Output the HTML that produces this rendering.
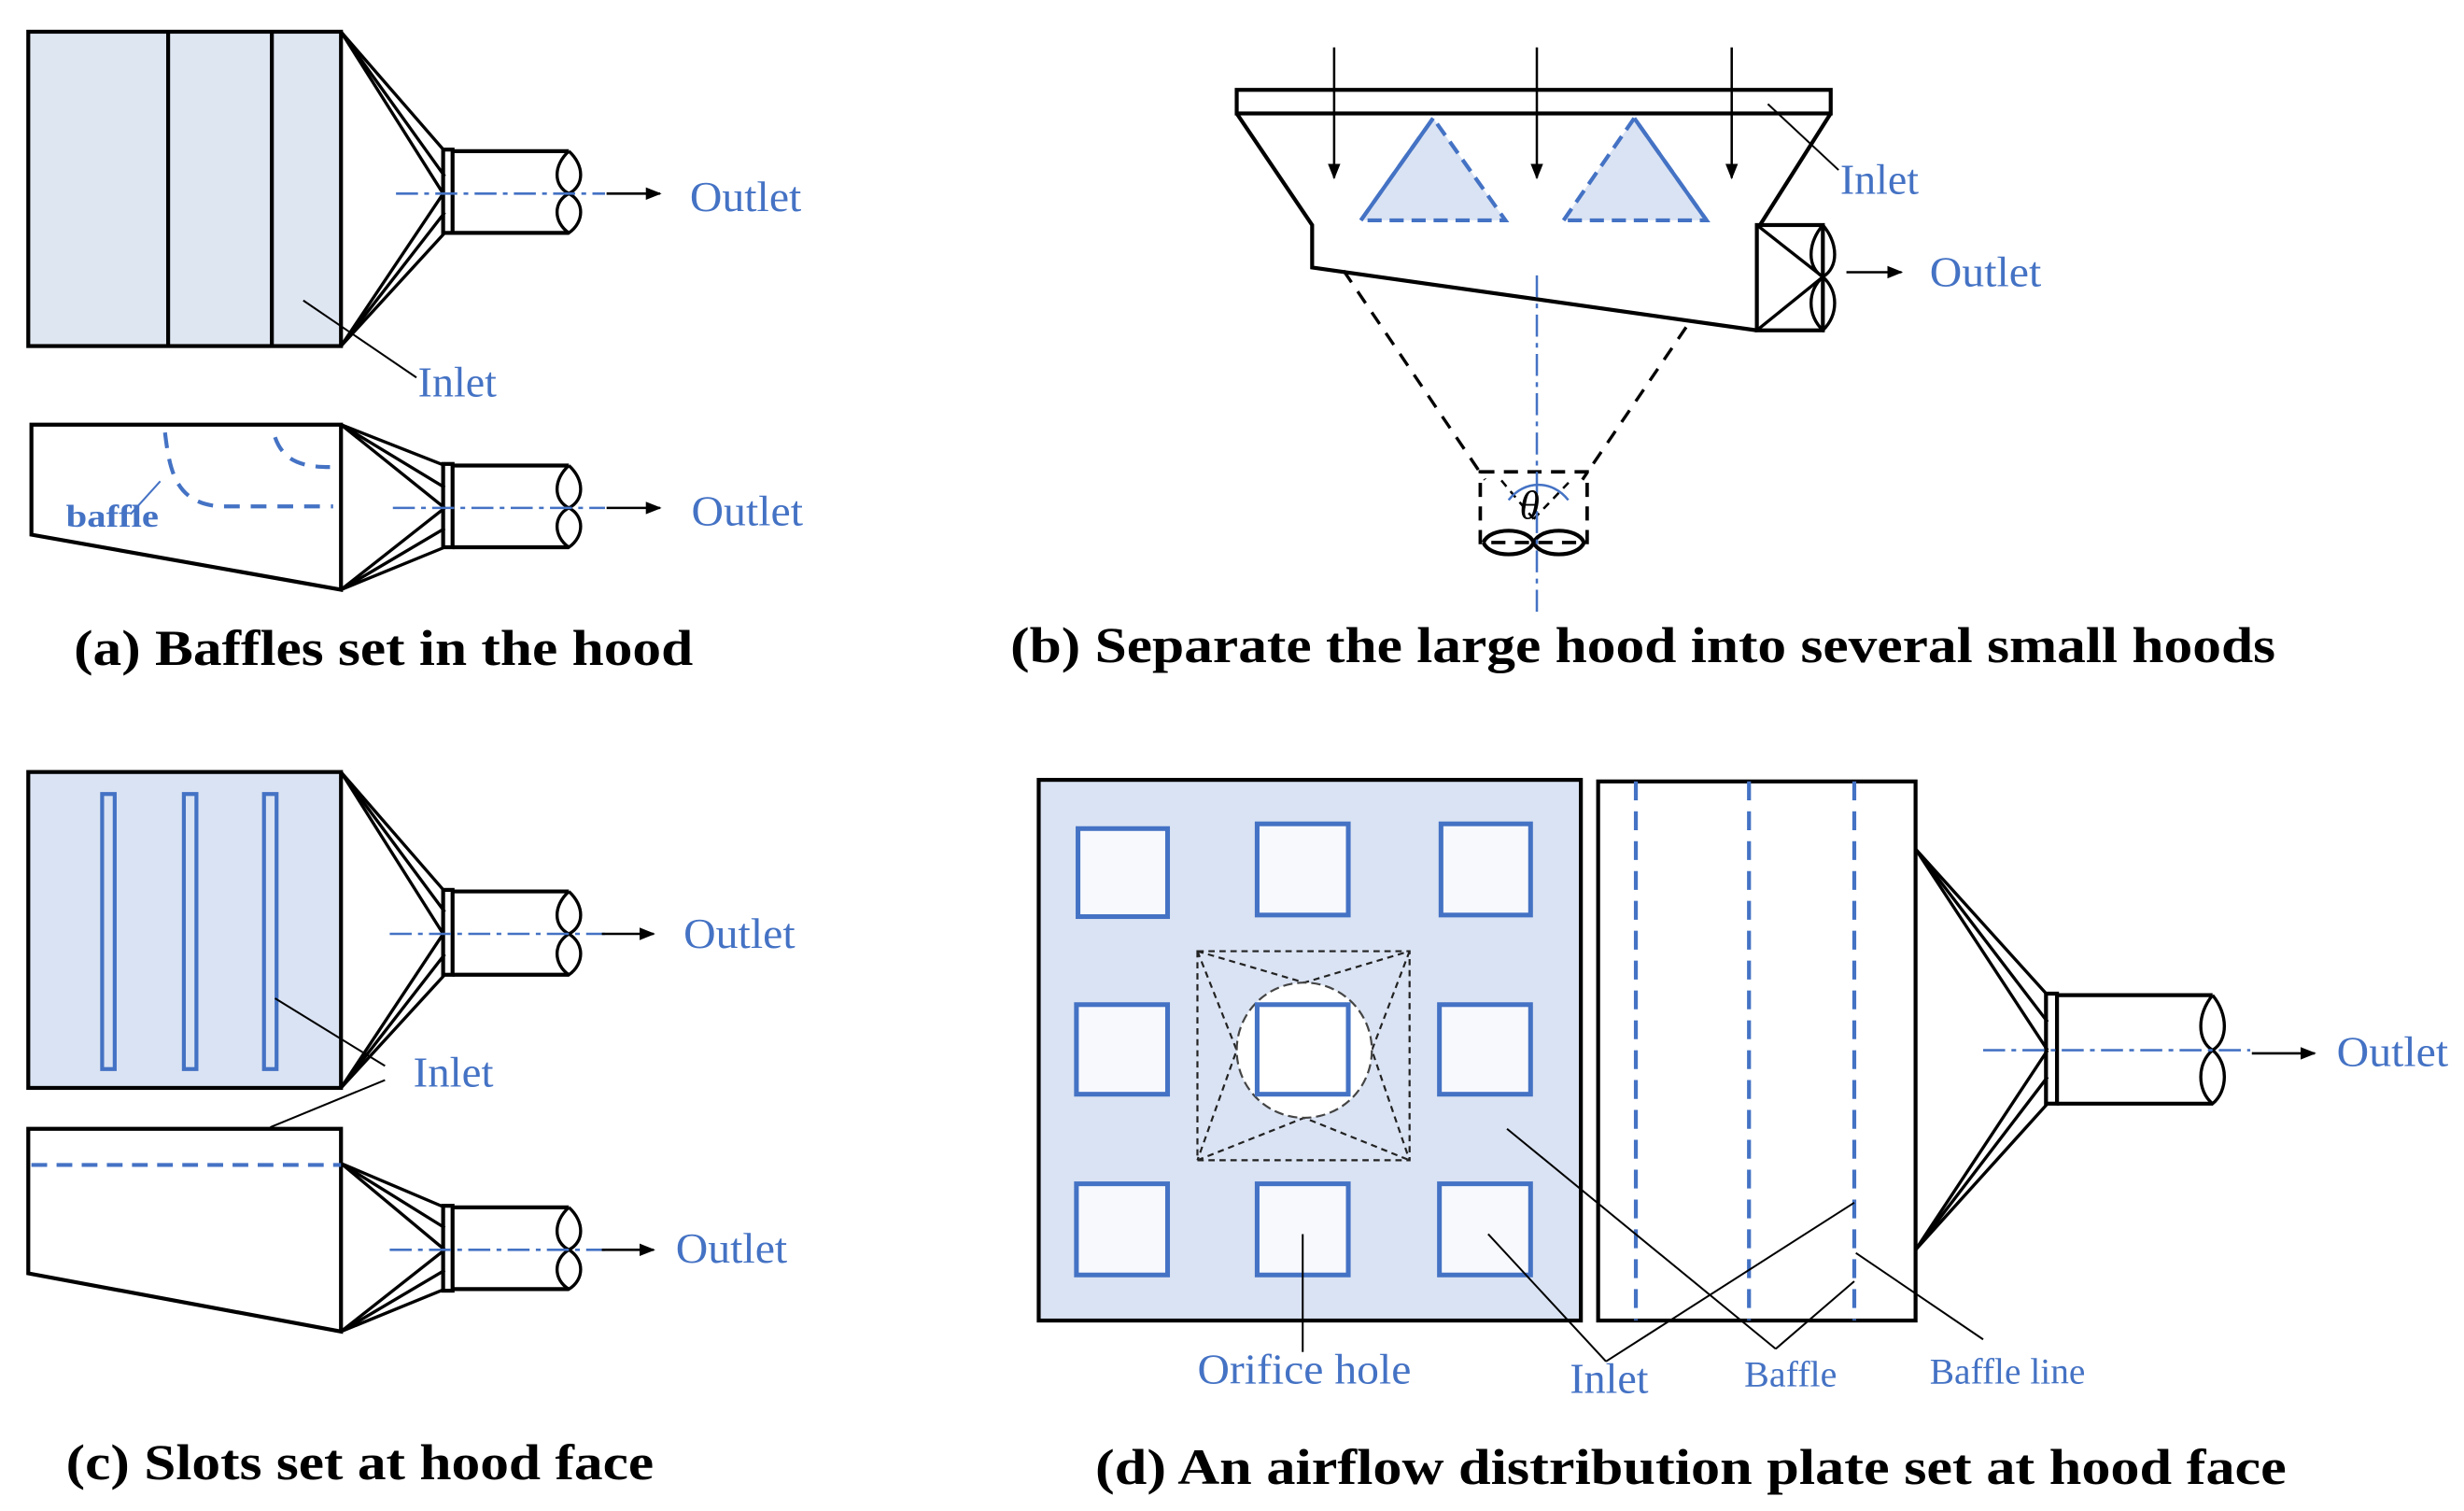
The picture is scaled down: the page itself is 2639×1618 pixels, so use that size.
<!DOCTYPE html>
<html><head><meta charset="utf-8"><style>
html,body{margin:0;padding:0;background:#fff;}
svg{display:block;}
text{font-family:"Liberation Serif",serif;}
.lb{fill:#4472c4;font-size:27px;}
.cap{font-size:32px;font-weight:bold;fill:#000;}
</style></head><body>
<svg width="2639" height="1618" viewBox="0 0 1568 961" xmlns="http://www.w3.org/2000/svg">
<defs>
<marker id="ar" markerWidth="10" markerHeight="10" refX="9" refY="5" orient="auto" markerUnits="userSpaceOnUse"><path d="M0,1 L10,5 L0,9 z" fill="#000"/></marker>
</defs>
<g stroke="#000" stroke-width="2.5" fill="none">
<!-- (a) top -->
<rect x="18" y="20" width="199" height="200" fill="#dee6f2"/>
<line x1="107" y1="20" x2="107" y2="220"/><line x1="173" y1="20" x2="173" y2="220"/>
<g stroke-width="2"><line x1="217" y1="20" x2="283" y2="96"/><line x1="217" y1="20" x2="282" y2="123"/><line x1="217" y1="20" x2="283" y2="112"/>
<line x1="217" y1="220" x2="283" y2="148"/><line x1="217" y1="220" x2="282" y2="123"/><line x1="217" y1="220" x2="283" y2="135"/></g>
<rect x="282" y="95" width="6" height="53"/>
<path d="M288 96 H362 M288 148 H362"/>
<path d="M362 96 C352 105 352 118 362 123 C372 118 372 105 362 96 M362 123 C352 128 352 141 362 148 C372 141 372 128 362 123" stroke-width="2"/>
<!-- (a) bottom -->
<path d="M20 270 H217 V375 L20 340 Z"/>
<g stroke-width="2"><line x1="217" y1="270" x2="283" y2="296"/><line x1="217" y1="270" x2="283" y2="323"/><line x1="217" y1="270" x2="283" y2="310"/>
<line x1="217" y1="375" x2="283" y2="348"/><line x1="217" y1="375" x2="283" y2="323"/><line x1="217" y1="375" x2="283" y2="336"/></g>
<rect x="282" y="295" width="6" height="53"/>
<path d="M288 296 H362 M288 348 H362"/>
<path d="M362 296 C352 305 352 318 362 323 C372 318 372 305 362 296 M362 323 C352 328 352 341 362 348 C372 341 372 328 362 323" stroke-width="2"/>
<!-- (b) -->
<rect x="787" y="57" width="378" height="15"/>
<path d="M787 72 L835 143 V170 L1118 210"/>
<path d="M1165 72 L1120 143"/>
<rect x="1118" y="143" width="42" height="67"/>
<path d="M1118 143 L1160 176 L1118 210" stroke-width="2"/>
<path d="M1160 143 C1150 155 1150 170 1160 176 C1170 170 1170 155 1160 143 M1160 176 C1150 185 1150 200 1160 210 C1170 200 1170 185 1160 176" stroke-width="2"/>
<path d="M855 172 L945 305 M1073 208 L1007 305" stroke-dasharray="9,7" stroke-width="2"/>
<rect x="942" y="300" width="68" height="45" stroke-dasharray="9,6" stroke-width="2.2"/>
<path d="M976 330 L955 305 M976 330 L1000 305" stroke-dasharray="5,4" stroke-width="1.5"/>
<path d="M944 345 C948 335 972 335 976 345 C972 355 948 355 944 345 M976 345 C980 335 1004 335 1008 345 C1004 355 980 355 976 345" stroke-width="2.5"/>
<g stroke-width="1.5"><line x1="849" y1="30" x2="849" y2="113" marker-end="url(#ar)"/><line x1="978" y1="30" x2="978" y2="113" marker-end="url(#ar)"/><line x1="1102" y1="30" x2="1102" y2="113" marker-end="url(#ar)"/></g>
<!-- (c) top -->
<rect x="18" y="491" width="199" height="201" fill="#dae3f3"/>
<g stroke-width="2"><line x1="217" y1="491" x2="283" y2="567"/><line x1="217" y1="491" x2="282" y2="594"/><line x1="217" y1="491" x2="283" y2="580"/>
<line x1="217" y1="692" x2="283" y2="620"/><line x1="217" y1="692" x2="282" y2="594"/><line x1="217" y1="692" x2="283" y2="607"/></g>
<rect x="282" y="566" width="6" height="54"/>
<path d="M288 567 H362 M288 620 H362"/>
<path d="M362 567 C352 576 352 589 362 594 C372 589 372 576 362 567 M362 594 C352 600 352 613 362 620 C372 613 372 600 362 594" stroke-width="2"/>
<!-- (c) bottom -->
<path d="M18 718 H217 V847 L18 810 Z"/>
<g stroke-width="2"><line x1="217" y1="740" x2="283" y2="768"/><line x1="217" y1="740" x2="283" y2="795"/><line x1="217" y1="740" x2="283" y2="781"/>
<line x1="217" y1="847" x2="283" y2="820"/><line x1="217" y1="847" x2="283" y2="795"/><line x1="217" y1="847" x2="283" y2="808"/></g>
<rect x="282" y="767" width="6" height="54"/>
<path d="M288 768 H362 M288 820 H362"/>
<path d="M362 768 C352 777 352 790 362 795 C372 790 372 777 362 768 M362 795 C352 801 352 814 362 820 C372 814 372 801 362 795" stroke-width="2"/>
<!-- (d) -->
<rect x="661" y="496" width="345" height="344" fill="#dae3f3"/>
<rect x="1017" y="497" width="202" height="343"/>
<g stroke-width="2"><line x1="1219" y1="540" x2="1303" y2="633"/><line x1="1219" y1="540" x2="1303" y2="668"/><line x1="1219" y1="540" x2="1303" y2="650"/>
<line x1="1219" y1="795" x2="1303" y2="702"/><line x1="1219" y1="795" x2="1303" y2="668"/><line x1="1219" y1="795" x2="1303" y2="685"/></g>
<rect x="1302" y="632" width="7" height="70"/>
<path d="M1309 633 H1408 M1309 702 H1408"/>
<path d="M1408 633 C1398 645 1398 662 1408 668 C1418 662 1418 645 1408 633 M1408 668 C1398 676 1398 694 1408 702 C1418 694 1418 676 1408 668" stroke-width="2"/>
</g>
<!-- blue stuff -->
<g stroke="#4472c4" fill="none">
<g stroke-width="1.5" stroke-dasharray="14,4,3,4">
<line x1="252" y1="123" x2="385" y2="123"/><line x1="250" y1="323" x2="385" y2="323"/>
<line x1="248" y1="594" x2="385" y2="594"/><line x1="248" y1="795" x2="385" y2="795"/>
<line x1="978" y1="175" x2="978" y2="392"/><line x1="1262" y1="668" x2="1432" y2="668"/>
</g>
<path d="M105 275 C108 300 112 320 140 322 H212 M175 278 C180 292 190 297 210 297" stroke-width="2.5" stroke-dasharray="10,7"/>
<path d="M866 140 L912 75 L958 140 Z M995 140 L1040 75 L1086 140 Z" fill="#dae3f3" stroke-width="2.5" stroke-dasharray="9,5"/>
<path d="M866 140 L912 75 M1040 75 L1086 140" stroke-width="2.5"/>
<path d="M960 318 C970 305 988 305 998 318" stroke-width="1.5"/>
<g stroke-width="2.5"><rect x="65" y="505" width="8" height="175"/><rect x="117" y="505" width="8" height="175"/><rect x="168" y="505" width="8" height="175"/></g>
<line x1="20" y1="741" x2="217" y2="741" stroke-width="2.5" stroke-dasharray="10,6"/>
<g stroke-width="3" fill="#f8f9fd">
<rect x="686" y="527" width="57" height="56"/><rect x="800" y="524" width="58" height="58"/><rect x="917" y="524" width="57" height="58"/>
<rect x="685" y="639" width="58" height="57"/><rect x="916" y="639" width="58" height="57"/>
<rect x="685" y="753" width="58" height="58"/><rect x="800" y="753" width="58" height="58"/><rect x="916" y="753" width="58" height="58"/>
</g>
<g stroke-width="2.5" stroke-dasharray="12,7"><line x1="1041" y1="497" x2="1041" y2="840"/><line x1="1113" y1="497" x2="1113" y2="840"/><line x1="1180" y1="497" x2="1180" y2="840"/></g>
</g>
<!-- orifice center -->
<g fill="none" stroke="#222" stroke-width="1.3" stroke-dasharray="4,3">
<rect x="762" y="605" width="135" height="133"/>
<path d="M762 605 L830 625 L897 605 M762 738 L830 711 L897 738 M762 605 L787 668 L762 738 M897 605 L873 668 L897 738"/>
</g>
<ellipse cx="830" cy="668" rx="43" ry="43" fill="#fff" stroke="#444" stroke-width="1.3" stroke-dasharray="6,3"/>
<rect x="800" y="639" width="58" height="57" fill="#fff" stroke="#4472c4" stroke-width="3"/>
<!-- arrows & leaders -->
<g stroke="#000" stroke-width="1.5" fill="none">
<line x1="386" y1="123" x2="420" y2="123" marker-end="url(#ar)"/>
<line x1="386" y1="323" x2="420" y2="323" marker-end="url(#ar)"/>
<line x1="383" y1="594" x2="416" y2="594" marker-end="url(#ar)"/>
<line x1="383" y1="795" x2="416" y2="795" marker-end="url(#ar)"/>
<line x1="1175" y1="173" x2="1210" y2="173" marker-end="url(#ar)"/>
<line x1="1433" y1="670" x2="1473" y2="670" marker-end="url(#ar)"/>
<g stroke-width="1.2">
<line x1="193" y1="191" x2="265" y2="240"/>
<line x1="1125" y1="66" x2="1170" y2="108"/>
<line x1="175" y1="635" x2="245" y2="678"/><line x1="172" y1="717" x2="245" y2="687"/>
<line x1="829" y1="785" x2="829" y2="860"/>
<line x1="947" y1="785" x2="1022" y2="866"/><line x1="1022" y1="866" x2="1180" y2="765"/>
<line x1="959" y1="718" x2="1130" y2="858"/><line x1="1130" y1="858" x2="1180" y2="815"/>
<line x1="1181" y1="797" x2="1262" y2="852"/>
</g>
</g>
<line x1="102" y1="306" x2="83" y2="327" stroke="#4472c4" stroke-width="1.2"/>
<!-- labels -->
<text class="lb" x="439" y="134" textLength="71" lengthAdjust="spacingAndGlyphs">Outlet</text>
<text class="lb" x="266" y="252" textLength="50" lengthAdjust="spacingAndGlyphs">Inlet</text>
<text class="lb" x="440" y="334" textLength="71" lengthAdjust="spacingAndGlyphs">Outlet</text>
<text x="42" y="335" style="font-size:20px;font-weight:bold;fill:#4472c4" textLength="59" lengthAdjust="spacingAndGlyphs">baffle</text>
<text class="cap" x="47" y="423" textLength="394" lengthAdjust="spacingAndGlyphs">(a) Baffles set in the hood</text>
<text class="lb" x="1171" y="123" textLength="50" lengthAdjust="spacingAndGlyphs">Inlet</text>
<text class="lb" x="1228" y="182" textLength="71" lengthAdjust="spacingAndGlyphs">Outlet</text>
<text x="967" y="330" style="font-size:26px;font-style:italic;fill:#000">θ</text>
<text class="cap" x="643" y="421" textLength="805" lengthAdjust="spacingAndGlyphs">(b) Separate the large hood into several small hoods</text>
<text class="lb" x="435" y="603" textLength="71" lengthAdjust="spacingAndGlyphs">Outlet</text>
<text class="lb" x="263" y="691" textLength="51" lengthAdjust="spacingAndGlyphs">Inlet</text>
<text class="lb" x="430" y="803" textLength="71" lengthAdjust="spacingAndGlyphs">Outlet</text>
<text class="cap" x="42" y="941" textLength="374" lengthAdjust="spacingAndGlyphs">(c) Slots set at hood face</text>
<text class="lb" x="1487" y="678" textLength="71" lengthAdjust="spacingAndGlyphs">Outlet</text>
<text class="lb" x="762" y="880" textLength="136" lengthAdjust="spacingAndGlyphs">Orifice hole</text>
<text class="lb" x="999" y="886" textLength="50" lengthAdjust="spacingAndGlyphs">Inlet</text>
<text class="lb" x="1110" y="882" style="font-size:23px" textLength="59" lengthAdjust="spacingAndGlyphs">Baffle</text>
<text class="lb" x="1228" y="880" style="font-size:23px" textLength="99" lengthAdjust="spacingAndGlyphs">Baffle line</text>
<text class="cap" x="697" y="944" textLength="758" lengthAdjust="spacingAndGlyphs">(d) An airflow distribution plate  set at hood face</text>
</svg>
</body></html>
